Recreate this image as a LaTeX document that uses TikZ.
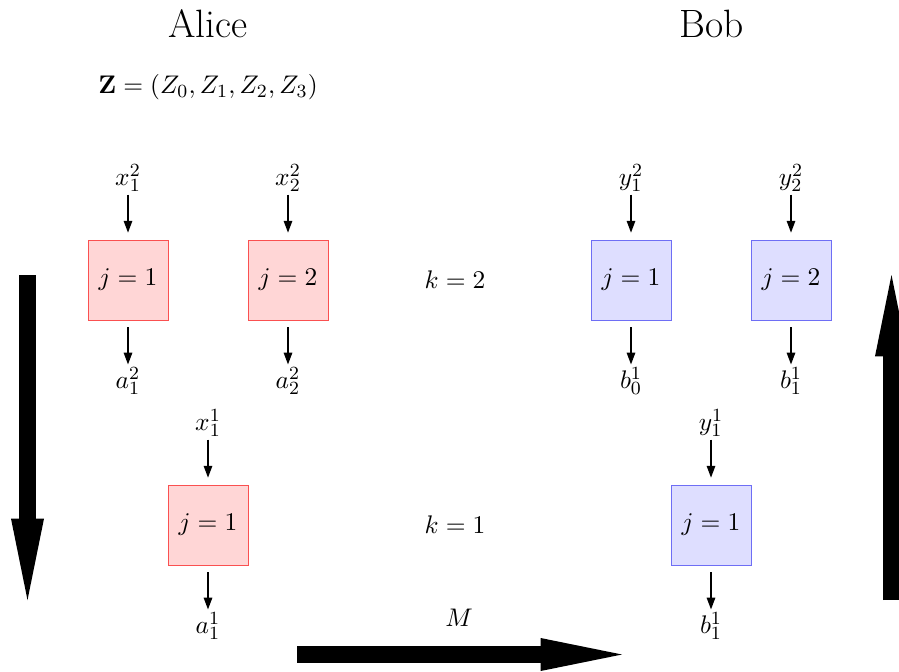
\documentclass[11pt,tikz,border=0pt]{standalone}
\usepackage{xcolor}
\usepackage{tikz}
\usetikzlibrary{arrows.meta, positioning}
\definecolor{alicefill}{RGB}{255,214,214}
\definecolor{aliceline}{RGB}{250,80,80}
\definecolor{bobfill}{RGB}{222,222,255}
\definecolor{bobline}{RGB}{110,110,245}

\begin{document}
\begin{tikzpicture}[x=0.43pt, y=-0.43pt,
    alicebox/.style={draw=aliceline, fill=alicefill, minimum size=34.4pt, inner sep=0pt},
    bobbox/.style={draw=bobline, fill=bobfill, minimum size=34.4pt, inner sep=0pt},
    lbl/.style={inner sep=1pt},
    flow/.style={line width=1pt, -{Triangle[length=5pt, width=3.8pt, line width=0pt]}, shorten >=3pt},
    outflow/.style={line width=1pt, -{Triangle[length=5pt, width=3.8pt, line width=0pt]}, shorten <=3pt},
    bigflow/.style={line width=7.3pt, -{Triangle[length=35pt, width=14.2pt, line width=0pt]}},
    party/.style={font=\fontsize{17}{20}\selectfont}]
    \useasboundingbox (0,0) rectangle (899,671);

    % Parties
    \node[party] (alice) at (208,24) {Alice};
    \node[party] (bob)   at (712,24) {Bob};
    \node (zvec) at (208,87) {$\mathbf{Z}=(Z_0,Z_1,Z_2,Z_3)$};

    % Round k=2
    \node[alicebox] (a21) at (128,280) {$j=1$};
    \node[alicebox] (a22) at (288,280) {$j=2$};
    \node (k2) at (455,280) {$k=2$};
    \node[bobbox] (b21) at (631,280) {$j=1$};
    \node[bobbox] (b22) at (791,280) {$j=2$};

    \node[lbl] (x12) at (128,178) {$x_1^2$};
    \node[lbl] (x22) at (288,178) {$x_2^2$};
    \node[lbl] (y12) at (631,178) {$y_1^2$};
    \node[lbl] (y22) at (791,178) {$y_2^2$};
    \node[lbl] (a12o) at (128,381) {$a_1^2$};
    \node[lbl] (a22o) at (288,381) {$a_2^2$};
    \node[lbl] (b01o) at (631,381) {$b_0^1$};
    \node[lbl] (b11o) at (791,381) {$b_1^1$};

    % Round k=1
    \node[alicebox] (a11) at (208,525) {$j=1$};
    \node (k1) at (455,525) {$k=1$};
    \node[bobbox] (b11) at (711,525) {$j=1$};

    \node[lbl] (x11) at (208,423) {$x_1^1$};
    \node[lbl] (y11) at (711,423) {$y_1^1$};
    \node[lbl] (a11o) at (208,626) {$a_1^1$};
    \node[lbl] (b11e) at (711,626) {$b_1^1$};

    % Inputs and outputs
    \foreach \i/\b in {x12/a21, x22/a22, y12/b21, y22/b22, x11/a11, y11/b11}
        \draw[flow] (\i) -- (\b);
    \foreach \b/\o in {a21/a12o, a22/a22o, b21/b01o, b22/b11o, a11/a11o, b11/b11e}
        \draw[outflow] (\b) -- (\o);

    % Time and message arrows
    \coordinate (lefttop) at (27.5,275);
    \coordinate (leftbot) at (27.5,600);
    \coordinate (rightbot) at (891.5,600);
    \coordinate (righttop) at (891.5,275);
    \coordinate (msgstart) at (297,654.5);
    \coordinate (msgend) at (622,654.5);
    \draw[bigflow] (lefttop) -- (leftbot);
    \draw[bigflow] (rightbot) -- (righttop);
    \draw[bigflow] (msgstart) -- (msgend);
    \node (msg) at (459,618) {$M$};
\end{tikzpicture}
\end{document}
